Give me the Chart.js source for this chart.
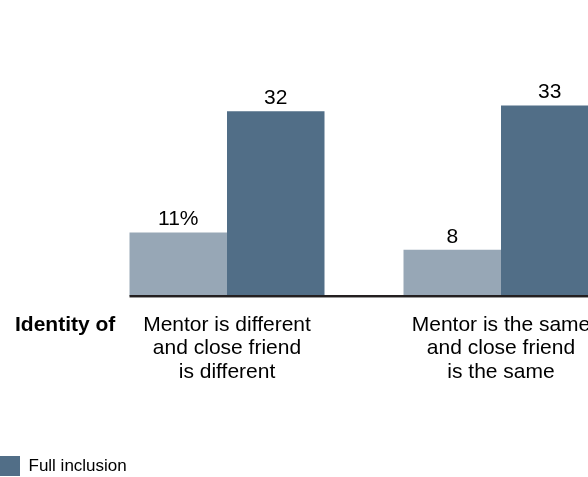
<!DOCTYPE html>
<html>
<head>
<meta charset="utf-8">
<script src="https://cdn.jsdelivr.net/npm/chart.js@4/dist/chart.umd.min.js"></script>
<style>
  html, body { margin: 0; padding: 0; background: #ffffff; overflow: hidden; }
  #wrap { position: relative; width: 588px; height: 477px; overflow: hidden; }
  #c { position: absolute; left: 0; top: 0; }
</style>
</head>
<body>
<div id="wrap"><canvas id="c" width="638" height="486"></canvas></div>
<script>
// Categories (multi-line tick labels) and series values
const categories = [
  ["Mentor is different", "and close friend", "is different"],
  ["Mentor is the same", "and close friend", "is the same"]
];
const partialValues = [11, 8];
const fullValues = [32, 33];
const seriesNames = ["Partial inclusion", "Full inclusion"];
const rowHeader = "Identity of";

const FONT = "'Liberation Sans', Arial, Helvetica, sans-serif";
const LIGHT = "#97a7b6";
const DARK = "#516e87";
const TICK_PAD = 17;
const LABEL_SIZE = 21;
const LABEL_LH = 1.12;

// Value labels above each bar; the first bar carries the unit
const valueLabels = {
  id: "valueLabels",
  afterDatasetsDraw(chart) {
    const ctx = chart.ctx;
    ctx.save();
    ctx.font = "21px " + FONT;
    ctx.fillStyle = "#000";
    ctx.textAlign = "center";
    ctx.textBaseline = "alphabetic";
    chart.data.datasets.forEach((ds, di) => {
      chart.getDatasetMeta(di).data.forEach((bar, i) => {
        const txt = (di === 0 && i === 0) ? ds.data[i] + "%" : String(ds.data[i]);
        ctx.fillText(txt, bar.x, bar.y - 7);
      });
    });
    ctx.restore();
  }
};

// Baseline under the bars plus the bold row header beside the category labels
const baseline = {
  id: "baseline",
  afterDatasetsDraw(chart) {
    const ctx = chart.ctx;
    const first = chart.getDatasetMeta(0).data[0];
    const x0 = first.x - first.width / 2;
    const y = chart.chartArea.bottom;
    ctx.save();
    ctx.fillStyle = "#231f20";
    ctx.fillRect(x0, y - 1, chart.width - x0, 2);
    ctx.fillStyle = "#9a9a9a";
    ctx.fillRect(x0, y + 1, chart.width - x0, 1);
    const xs = chart.scales.x;
    const lh = LABEL_SIZE * LABEL_LH;
    ctx.font = "bold 21px " + FONT;
    ctx.fillStyle = "#000";
    ctx.textAlign = "left";
    ctx.textBaseline = "middle";
    ctx.fillText(rowHeader, 15, xs.top + TICK_PAD + lh / 2);
    ctx.restore();
  }
};

new Chart(document.getElementById("c"), {
  type: "bar",
  data: {
    labels: categories,
    datasets: [
      { label: seriesNames[0], data: partialValues, backgroundColor: LIGHT, borderWidth: 0,
        categoryPercentage: 0.7117, barPercentage: 1 },
      { label: seriesNames[1], data: fullValues, backgroundColor: DARK, borderWidth: 0,
        categoryPercentage: 0.7117, barPercentage: 1 }
    ]
  },
  options: {
    responsive: false,
    animation: false,
    devicePixelRatio: 1,
    layout: { padding: { top: 65, left: 0, right: 0, bottom: 0 } },
    scales: {
      x: {
        offset: true,
        grid: { display: false, drawTicks: false },
        border: { display: false },
        ticks: {
          color: "#000",
          font: { family: FONT, size: LABEL_SIZE, lineHeight: LABEL_LH },
          padding: TICK_PAD,
          maxRotation: 0,
          autoSkip: false
        },
        afterFit(scale) { scale.height = 160; }
      },
      y: {
        min: 0,
        max: 40,
        grid: { display: false, drawTicks: false },
        border: { display: false },
        ticks: { display: false },
        afterFit(scale) { scale.width = 90; }
      }
    },
    plugins: {
      tooltip: { enabled: false },
      legend: {
        position: "bottom",
        align: "start",
        labels: {
          filter: (item) => item.datasetIndex === 1,
          color: "#000",
          font: { family: FONT, size: 17 },
          boxWidth: 20,
          boxHeight: 20,
          padding: 0
        }
      }
    }
  },
  plugins: [valueLabels, baseline]
});
</script>
</body>
</html>
